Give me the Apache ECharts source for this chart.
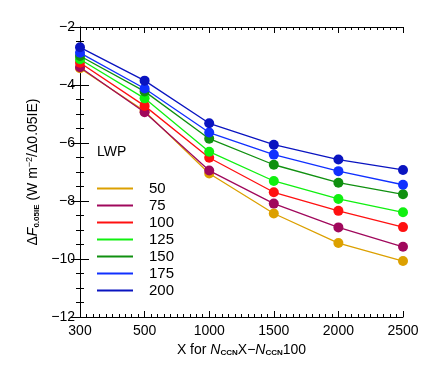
<!DOCTYPE html>
<html>
<head>
<meta charset="utf-8">
<script src="https://cdn.jsdelivr.net/npm/echarts@6/dist/echarts.min.js"></script>
<style>
html,body{margin:0;padding:0;background:#fff;}
#chart{width:445px;height:383px;}
</style>
</head>
<body>
<div id="chart"></div>
<script>
var categories = ['300', '500', '1000', '1500', '2000', '2500'];
var lwpNames = ['50', '75', '100', '125', '150', '175', '200'];
var lwp50  = [-3.42, -4.90, -7.05, -8.43, -9.45, -10.07];
var lwp75  = [-3.39, -4.94, -6.95, -8.09, -8.91, -9.58];
var lwp100 = [-3.23, -4.72, -6.51, -7.70, -8.34, -8.90];
var lwp125 = [-3.11, -4.46, -6.30, -7.31, -7.93, -8.39];
var lwp150 = [-3.00, -4.22, -5.85, -6.75, -7.37, -7.77];
var lwp175 = [-2.89, -4.12, -5.64, -6.40, -6.97, -7.44];
var lwp200 = [-2.70, -3.85, -5.32, -6.06, -6.57, -6.93];
var yTicks = [-12, -10, -8, -6, -4, -2];

var seriesValues = [lwp50, lwp75, lwp100, lwp125, lwp150, lwp175, lwp200];
var colors = ['#DCA000', '#A0085C', '#FF1010', '#10F010', '#109010', '#1030FF', '#0A14C0'];

var FONT = '"Liberation Sans", Arial, sans-serif';
var chart = echarts.init(document.getElementById('chart'));

var series = seriesValues.map(function (vals, k) {
  return {
    name: lwpNames[k],
    type: 'line',
    data: vals.map(function (v, i) { return [i, v]; }),
    symbol: 'circle',
    symbolSize: 10,
    lineStyle: { width: 1.3, color: colors[k] },
    itemStyle: { color: colors[k] },
    emphasis: { disabled: true },
    animation: false,
    z: 2 + k
  };
});

var option = {
  backgroundColor: '#fff',
  animation: false,
  grid: { left: 80, right: 42, top: 27, bottom: 66 },
  legend: {
    orient: 'vertical',
    left: 97,
    top: 180,
    padding: 0,
    icon: 'rect',
    itemWidth: 36,
    itemHeight: 2,
    itemGap: 0,
    data: lwpNames,
    textStyle: { fontFamily: FONT, fontSize: 15, color: '#000', lineHeight: 17, padding: [0, 0, 0, 11] }
  },
  graphic: [{
    type: 'text',
    left: 97,
    top: 145,
    style: { text: 'LWP', font: '14px ' + FONT, fill: '#000' }
  }],
  xAxis: [{
    type: 'value',
    min: 0, max: 5, interval: 1,
    axisLine: { lineStyle: { color: '#000' } },
    axisTick: { inside: true, length: 6, lineStyle: { color: '#000' } },
    minorTick: { show: true, splitNumber: 10, length: 3, lineStyle: { color: '#000' } },
    splitLine: { show: false },
    axisLabel: {
      margin: 7, fontFamily: FONT, fontSize: 14, color: '#000',
      formatter: function (v) { return categories[Math.round(v)]; }
    },
    name: '{n|X for }{i|N}{s|CCN}{n|X\u2212}{i|N}{s|CCN}{n|100}',
    nameLocation: 'middle',
    nameGap: 18,
    nameTextStyle: {
      rich: {
        n: { fontFamily: FONT, fontSize: 14, color: '#000' },
        i: { fontFamily: FONT, fontSize: 14, fontStyle: 'italic', color: '#000' },
        s: { fontFamily: FONT, fontSize: 8, fontWeight: 'bold', color: '#000', padding: [6, 0, 0, 0] }
      }
    }
  }, {
    type: 'value', position: 'top',
    min: 0, max: 5, interval: 1,
    axisLine: { lineStyle: { color: '#000' } },
    axisTick: { inside: true, length: 6, lineStyle: { color: '#000' } },
    minorTick: { show: true, splitNumber: 10, length: 3, lineStyle: { color: '#000' } },
    splitLine: { show: false },
    axisLabel: { show: false }
  }],
  yAxis: [{
    type: 'value',
    min: -12, max: -2, interval: 2,
    axisLine: { show: true, lineStyle: { color: '#000' } },
    axisTick: { inside: true, length: 9, lineStyle: { color: '#000' } },
    minorTick: { show: true, splitNumber: 4, length: 4, lineStyle: { color: '#000' } },
    splitLine: { show: false },
    axisLabel: {
      margin: 5, fontFamily: FONT, fontSize: 14, color: '#000',
      formatter: function (v) { return yTicks.indexOf(v) >= 0 ? String(v).replace('-', '\u2212') : ''; }
    },
    name: '{n|\u0394}{i|F}{s|0.05IE}{n| (W m}{p|\u22122}{n|/\u03940.05IE)}',
    nameLocation: 'middle',
    nameRotate: 90,
    nameGap: 34,
    nameTextStyle: {
      rich: {
        n: { fontFamily: FONT, fontSize: 14, color: '#000' },
        i: { fontFamily: FONT, fontSize: 14, fontStyle: 'italic', color: '#000' },
        s: { fontFamily: FONT, fontSize: 8, fontWeight: 'bold', color: '#000', padding: [6, 0, 0, 0] },
        p: { fontFamily: FONT, fontSize: 9, color: '#000', padding: [0, 0, 8, 0] }
      }
    }
  }, {
    type: 'value', position: 'right',
    min: -12, max: -2, interval: 2,
    axisLine: { show: true, lineStyle: { color: '#000' } },
    axisTick: { inside: true, length: 9, lineStyle: { color: '#000' } },
    minorTick: { show: true, splitNumber: 4, length: 4, lineStyle: { color: '#000' } },
    splitLine: { show: false },
    axisLabel: { show: false }
  }],
  series: series
};
chart.setOption(option);
</script>
</body>
</html>
